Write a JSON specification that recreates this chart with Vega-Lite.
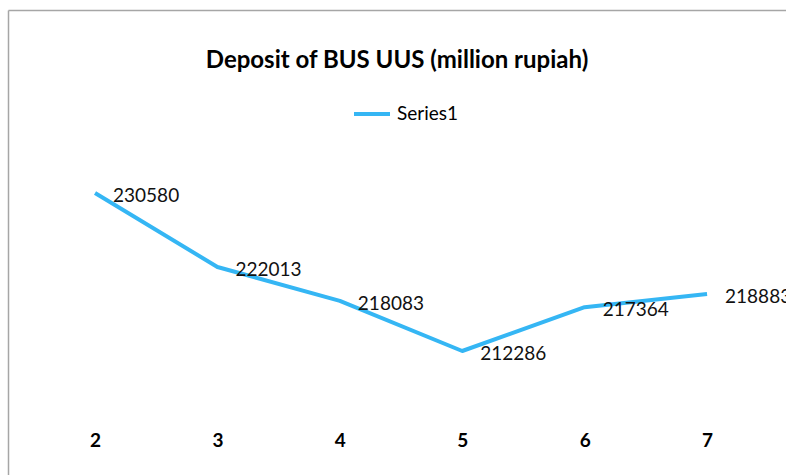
{
  "$schema": "https://vega.github.io/schema/vega-lite/v6.json",
  "width": 778,
  "height": 465,
  "autosize": {"type": "none"},
  "padding": {"left": 8, "top": 10, "right": 0, "bottom": 0},
  "background": "white",
  "title": {
    "text": "Deposit of BUS UUS (million rupiah)",
    "font": "Lato",
    "fontSize": 24,
    "fontWeight": "bold",
    "color": "#000000",
    "anchor": "middle",
    "offset": -63
  },
  "config": {
    "view": {"stroke": null}
  },
  "data": {
    "values": [
      {"period": 2, "deposit": 230580, "series": "Series1"},
      {"period": 3, "deposit": 222013, "series": "Series1"},
      {"period": 4, "deposit": 218083, "series": "Series1"},
      {"period": 5, "deposit": 212286, "series": "Series1"},
      {"period": 6, "deposit": 217364, "series": "Series1"},
      {"period": 7, "deposit": 218883, "series": "Series1"}
    ]
  },
  "encoding": {
    "y": {
      "field": "deposit",
      "type": "quantitative",
      "scale": {"domain": [197929, 251768], "nice": false, "zero": false},
      "axis": {
        "title": null,
        "orient": "left",
        "labels": false,
        "ticks": false,
        "grid": false,
        "domain": true,
        "domainColor": "#a6a6a6",
        "domainWidth": 1.5
      }
    }
  },
  "layer": [
    {
      "mark": {"type": "line", "strokeWidth": 4, "strokeCap": "butt", "strokeJoin": "round"},
      "encoding": {
        "x": {
          "field": "period",
          "type": "quantitative",
          "scale": {"domain": [1.289, 7.645], "nice": false, "zero": false},
          "axis": {
            "title": null,
            "values": [2, 3, 4, 5, 6, 7],
            "format": "d",
            "orient": "bottom",
            "offset": -44,
            "labelPadding": 0,
            "domain": false,
            "ticks": false,
            "grid": false,
            "labelFont": "Lato",
            "labelFontSize": 19,
            "labelFontWeight": "bold",
            "labelColor": "#000000"
          }
        },
        "color": {
          "field": "series",
          "type": "nominal",
          "scale": {"range": ["#35B6F4"]},
          "legend": {
            "title": null,
            "orient": "none",
            "legendX": 344,
            "legendY": 84,
            "padding": 0,
            "symbolType": "stroke",
            "symbolStrokeWidth": 4,
            "symbolSize": 1296,
            "labelOffset": 5,
            "labelFont": "Lato",
            "labelFontSize": 19,
            "labelColor": "#000000"
          }
        }
      }
    },
    {
      "mark": {"type": "text", "align": "left", "baseline": "middle", "dx": 18, "dy": 3, "font": "Lato", "fontSize": 19, "color": "#111111"},
      "encoding": {
        "x": {
          "field": "period",
          "type": "quantitative",
          "axis": {
            "title": null,
            "orient": "top",
            "labels": false,
            "ticks": false,
            "grid": false,
            "domain": true,
            "domainColor": "#a6a6a6",
            "domainWidth": 1.5
          }
        },
        "text": {"field": "deposit", "type": "quantitative", "format": "d"}
      }
    }
  ]
}
